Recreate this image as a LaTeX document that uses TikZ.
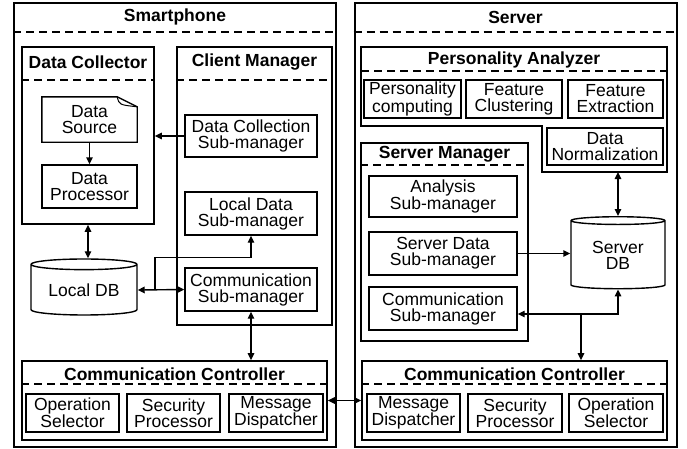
\documentclass[tikz,border=0pt]{standalone}
\usepackage{fontspec}
\setmainfont{Liberation Sans}
\usetikzlibrary{shapes.geometric, arrows.meta}
\tikzset{
  >={Triangle[length=7pt,width=6.5pt]},
  every node/.style={font=\fontsize{17.5}{16}\selectfont, align=center, inner sep=0pt},
  host/.style={draw, line width=2pt},
  block/.style={draw, line width=1.7pt},
  part/.style={draw, line width=1.4pt},
  heading/.style={font=\fontsize{17.5}{16}\selectfont\bfseries},
  sep/.style={line width=1.5pt, dash pattern=on 8pt off 5pt},
  link/.style={line width=1.4pt},
  store/.style={draw, line width=1.4pt, cylinder, shape border rotate=90, aspect=0.15},
}

\begin{document}
\begin{tikzpicture}[x=1pt, y=-1pt]
  \useasboundingbox (0,0) rectangle (687,448);

  % hosts
  \node[host, minimum width=322pt, minimum height=444pt] (phone) at (175,224.5) {};
  \node[host, minimum width=322pt, minimum height=444pt] (server) at (515.5,224.5) {};
  \node[heading] (phonetitle) at (175,17) {Smartphone};
  \node[heading] (servertitle) at (515.5,17) {Server};
  \draw[sep] (phone.west |- 0,32) -- (phone.east |- 0,32);
  \draw[sep] (server.west |- 0,32) -- (server.east |- 0,32);

  % smartphone side
  \node[block, minimum width=132pt, minimum height=177pt] (collector) at (88,135.5) {};
  \node[heading] (collectortitle) at (88,62) {Data Collector};
  \draw[sep] (collector.west |- 0,80) -- (collector.east |- 0,80);
  \node[minimum width=95pt, minimum height=45pt] (src) at (89.5,119.5) {Data\\Source};
  \draw[part] (src.south west) -- (src.north west) -- ([xshift=-20pt]src.north east)
    -- ([yshift=-10pt]src.north east) -- (src.south east) -- cycle;
  \draw[line width=1pt] ([xshift=-20pt]src.north east) .. controls ([xshift=-18pt,yshift=-8pt]src.north east) .. ([yshift=-10pt]src.north east);
  \node[part, minimum width=95pt, minimum height=43pt] (proc) at (89.5,186.5) {Data\\Processor};

  \node[block, minimum width=155pt, minimum height=278pt] (client) at (254.5,186) {};
  \node[heading] (clienttitle) at (254.5,62) {Client Manager};
  \draw[sep] (client.west |- 0,80) -- (client.east |- 0,80);
  \node[part, minimum width=132pt, minimum height=42pt] (dcsm) at (251,136) {Data Collection\\Sub-manager};
  \node[part, minimum width=132pt, minimum height=43pt] (ldsm) at (251,213.5) {Local Data\\Sub-manager};
  \node[part, minimum width=132pt, minimum height=43pt] (csm) at (251,289.5) {Communication\\Sub-manager};
  \node[store, minimum width=106pt, minimum height=56pt] (ldb) at (84,290) {Local DB};

  \node[block, minimum width=305pt, minimum height=79pt] (ccl) at (174.5,400.5) {};
  \node[heading] (ccltitle) at (174.5,374) {Communication Controller};
  \draw[sep] (ccl.west |- 0,384) -- (ccl.east |- 0,384);
  \node[part, minimum width=93pt, minimum height=38pt] (opsel1) at (72.5,413) {Operation\\Selector};
  \node[part, minimum width=93pt, minimum height=38pt] (secp1) at (173.5,413) {Security\\Processor};
  \node[part, minimum width=94pt, minimum height=38pt] (msgd1) at (276,413) {Message\\Dispatcher};

  % server side
  \draw[block] (361,47) -- (667,47) -- (667,172) -- (542,172) -- (542,126) -- (361,126) -- cycle;
  \node[heading] (patitle) at (514,60) {Personality Analyzer};
  \draw[sep] (361,71) -- (667,71);
  \node[part, minimum width=97pt, minimum height=38pt] (pcomp) at (412.5,99) {Personality\\computing};
  \node[part, minimum width=96pt, minimum height=38pt] (fclus) at (514,99) {Feature\\Clustering};
  \node[part, minimum width=95pt, minimum height=38pt] (fext) at (615.5,99) {Feature\\Extraction};
  \node[part, minimum width=116pt, minimum height=37pt] (dnorm) at (605,146.5) {Data\\Normalization};

  \node[block, minimum width=167pt, minimum height=198pt] (smgr) at (444.5,242) {};
  \node[heading] (smgrtitle) at (444.5,154) {Server Manager};
  \draw[sep] (smgr.west |- 0,165) -- (smgr.east |- 0,165);
  \node[part, minimum width=148pt, minimum height=41pt] (asm) at (443,196.5) {Analysis\\Sub-manager};
  \node[part, minimum width=148pt, minimum height=43pt] (sdsm) at (443,253.5) {Server Data\\Sub-manager};
  \node[part, minimum width=148pt, minimum height=43pt] (scsm) at (443,308.5) {Communication\\Sub-manager};
  \node[store, minimum width=94pt, minimum height=72pt] (sdb) at (618,255) {Server\\DB};

  \node[block, minimum width=305pt, minimum height=79pt] (ccr) at (514.5,400.5) {};
  \node[heading] (ccrtitle) at (514.5,374) {Communication Controller};
  \draw[sep] (ccr.west |- 0,384) -- (ccr.east |- 0,384);
  \node[part, minimum width=93pt, minimum height=38pt] (msgd2) at (413.5,413) {Message\\Dispatcher};
  \node[part, minimum width=94pt, minimum height=38pt] (secp2) at (515,413) {Security\\Processor};
  \node[part, minimum width=94pt, minimum height=38pt] (opsel2) at (616,413) {Operation\\Selector};

  % connectors
  \draw[link, ->] (src) -- (proc);
  \draw[link, ->] (dcsm.west) -- (dcsm.west -| collector.east);
  \draw[link, <->] (collector.south) -- (collector.south |- ldb.north);
  \draw[link, <->] (ldb.east) -- (csm.west);
  \coordinate (jn1) at (collector.east |- csm.west);
  \draw[link, ->] (jn1) -- ++(0,-32) -| (ldsm.south);
  \draw[link, <->] (csm.south) -- (csm.south |- ccl.north);
  \draw[link, <->] (ccl.east) -- (ccr.west);

  \coordinate (pabot) at (sdb.north |- 0,172);
  \draw[link, <->] (pabot) -- (sdb.north);
  \draw[link, ->] (sdsm.east) -- (sdsm.east -| sdb.west);
  \coordinate (jn2) at (581,314);
  \draw[link, ->] (jn2) -- (jn2 -| scsm.east);
  \draw[link, ->] (jn2) -| (sdb.south);
  \draw[link, ->] (jn2) -- (jn2 |- ccr.north);

\end{tikzpicture}
\end{document}
